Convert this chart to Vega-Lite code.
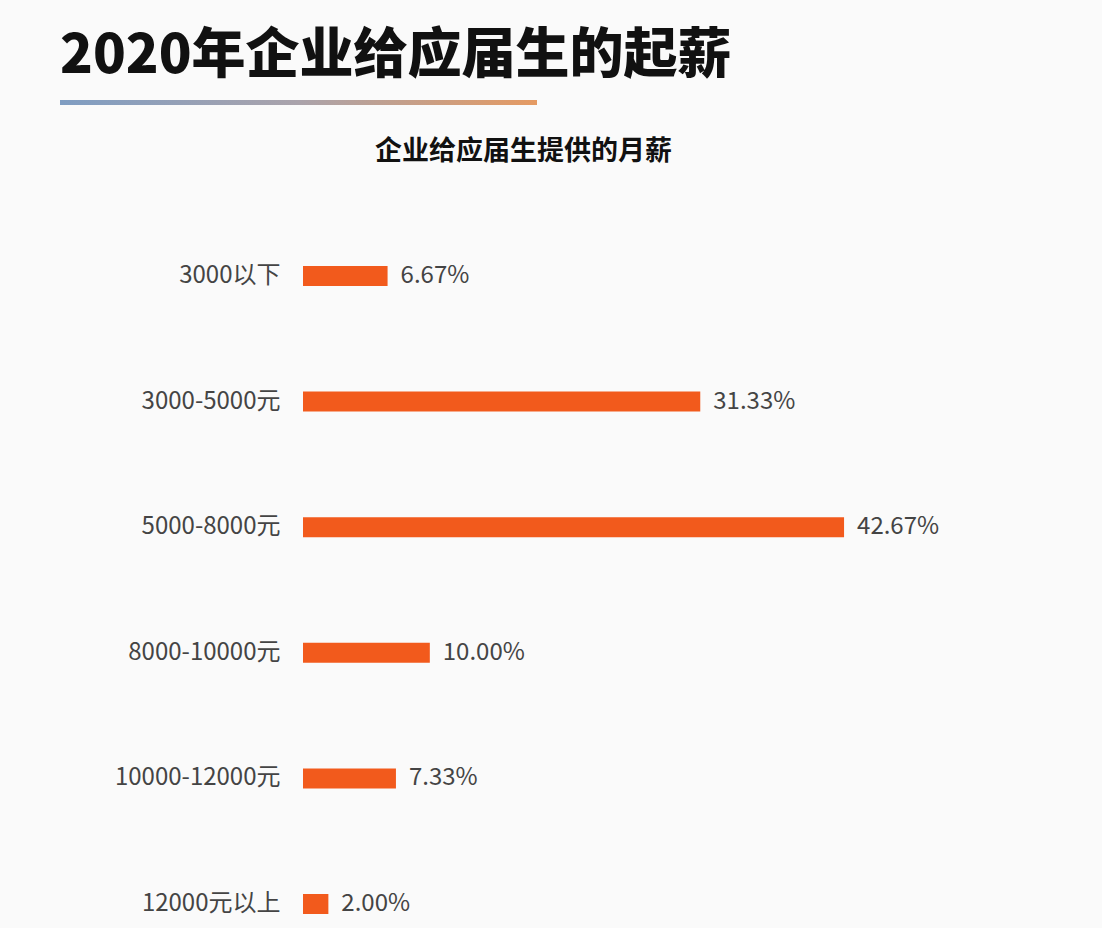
{
  "$schema": "https://vega.github.io/schema/vega-lite/v6.json",
  "background": "#fafafa",
  "padding": {"left": 60, "top": 30, "right": 165, "bottom": 12},
  "title": {
    "text": "2020年企业给应届生的起薪",
    "anchor": "start",
    "font": "Noto Sans CJK SC",
    "fontSize": 54,
    "fontWeight": 900,
    "color": "#111111",
    "offset": 16
  },
  "spacing": 33,
  "config": {
    "view": {"stroke": null},
    "font": "Noto Sans CJK SC"
  },
  "vconcat": [
    {
      "width": 477,
      "height": 5,
      "data": {"values": [{"element": "title underline"}]},
      "mark": {
        "type": "rect",
        "fill": {
          "gradient": "linear",
          "x1": 0, "y1": 0, "x2": 1, "y2": 0,
          "stops": [
            {"offset": 0, "color": "#7f9dc2"},
            {"offset": 0.5, "color": "#aaa3ab"},
            {"offset": 1, "color": "#e59a62"}
          ]
        }
      },
      "encoding": {}
    },
    {
      "width": 877,
      "height": 648,
      "title": {
        "text": "企业给应届生提供的月薪",
        "anchor": "start",
        "frame": "group",
        "dx": 315,
        "font": "Noto Sans CJK SC",
        "fontSize": 27,
        "fontWeight": "bold",
        "color": "#111111",
        "offset": 97
      },
      "data": {
        "values": [
          {"range": "3000以下", "share": 0.0667},
          {"range": "3000-5000元", "share": 0.3133},
          {"range": "5000-8000元", "share": 0.4267},
          {"range": "8000-10000元", "share": 0.1},
          {"range": "10000-12000元", "share": 0.0733},
          {"range": "12000元以上", "share": 0.02}
        ]
      },
      "encoding": {
        "y": {
          "field": "range",
          "type": "nominal",
          "sort": null,
          "scale": {"paddingInner": 0.8408, "paddingOuter": 0},
          "axis": {
            "title": null,
            "domain": false,
            "ticks": false,
            "offset": -243,
            "labelPadding": 23,
            "labelFontSize": 24,
            "labelColor": "#444444",
            "labelFont": "Noto Sans CJK SC",
            "labelLimit": 400
          }
        },
        "x": {
          "field": "share",
          "type": "quantitative",
          "scale": {"domain": [0, 0.5], "range": [243, 877]},
          "axis": null
        }
      },
      "layer": [
        {"mark": {"type": "bar", "color": "#f25a1c"}},
        {
          "mark": {
            "type": "text",
            "align": "left",
            "baseline": "middle",
            "dx": 13,
            "fontSize": 24,
            "color": "#444444",
            "font": "Noto Sans CJK SC"
          },
          "encoding": {
            "text": {"field": "share", "type": "quantitative", "format": ".2%"}
          }
        }
      ]
    }
  ]
}
